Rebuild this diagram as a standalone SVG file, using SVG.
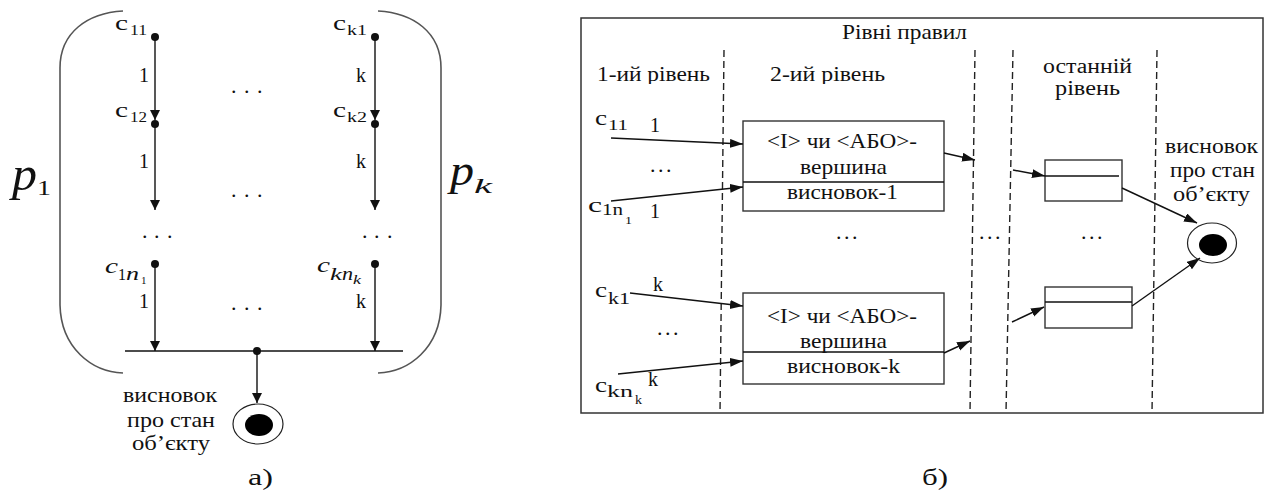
<svg xmlns="http://www.w3.org/2000/svg" width="1266" height="492" viewBox="0 0 1266 492" font-family="'Liberation Serif', 'DejaVu Serif', serif">
  <defs>
    <marker id="arrL" markerUnits="userSpaceOnUse" markerWidth="10" markerHeight="10" refX="10" refY="5" orient="auto">
      <path d="M0,0 L10,5 L0,10 z" fill="#111"/>
    </marker>
    <marker id="arrR" markerUnits="userSpaceOnUse" markerWidth="13" markerHeight="10" refX="13" refY="4.5" orient="auto">
      <path d="M0,0 L13,4.5 L0,9 z" fill="#111"/>
    </marker>
    <clipPath id="clipHead">
      <rect x="585" y="40" width="400" height="44"/>
    </clipPath>
  </defs>
  <style>
    text { font-family: 'Liberation Serif', 'DejaVu Serif', serif; fill: #111; }
    .t { font-size: 21px; }
    .lbl { font-size: 20px; }
    .c { font-size: 22px; }
    .sub { font-size: 15px; }
    .it { font-style: italic; }
    .dots { font-size: 22px; }
    .ln { fill: none; stroke: #111; stroke-width: 1.4; }
    .paren { fill: none; stroke: #555; stroke-width: 1.6; }
    .box { fill: #fff; stroke: #333; stroke-width: 1.4; }
    .dash { fill: none; stroke: #222; stroke-width: 1.4; stroke-dasharray: 7 4; }
    .pt { fill: #111; }
  </style>

  <rect width="1266" height="492" fill="#fff"/>

  <!-- ===== a) chains of conditions ===== -->
  <g id="brackets">
    <path class="paren" d="M123,11 C88,13 60,32 60,68 L60,305 C61,348 92,372 123,373"/>
    <path class="paren" d="M378,11 C413,13 441,32 441,68 L441,305 C440,348 409,372 378,373"/>
    <text x="12" y="190" class="it" font-size="48" textLength="25" lengthAdjust="spacingAndGlyphs">p</text>
    <text x="37" y="195" font-size="20" textLength="14" lengthAdjust="spacingAndGlyphs">1</text>
    <text x="450" y="185" class="it" font-size="44" textLength="24" lengthAdjust="spacingAndGlyphs">p</text>
    <text x="474" y="193" class="it" font-size="22" textLength="18" lengthAdjust="spacingAndGlyphs">k</text>
  </g>

  <g id="a-connectors">
    <path class="ln" d="M155,37 L155,120" marker-end="url(#arrL)"/>
    <path class="ln" d="M155,124 L155,210" marker-end="url(#arrL)"/>
    <path class="ln" d="M375,37 L375,120" marker-end="url(#arrL)"/>
    <path class="ln" d="M375,124 L375,210" marker-end="url(#arrL)"/>
    <path class="ln" d="M155,264 L155,351" marker-end="url(#arrL)"/>
    <path class="ln" d="M375,264 L375,351" marker-end="url(#arrL)"/>
    <path class="ln" d="M125,351 L403,351"/>
    <path class="ln" d="M257,351 L257,403" marker-end="url(#arrL)"/>
  </g>

  <g id="a-c11">
    <circle class="pt" cx="155" cy="37" r="4"/>
    <text x="115" y="30" class="c" textLength="13" lengthAdjust="spacingAndGlyphs">c</text>
    <text x="130" y="35" class="sub" textLength="17" lengthAdjust="spacingAndGlyphs">11</text>
  </g>
  <g id="a-c12">
    <circle class="pt" cx="155" cy="124" r="4"/>
    <text x="115" y="117" class="c" textLength="13" lengthAdjust="spacingAndGlyphs">c</text>
    <text x="130" y="122" class="sub" textLength="17" lengthAdjust="spacingAndGlyphs">12</text>
  </g>
  <g id="a-c1n1">
    <circle class="pt" cx="155" cy="264" r="4"/>
    <text x="105" y="273" class="c it" textLength="13" lengthAdjust="spacingAndGlyphs">c</text>
    <text x="118" y="280" font-size="16">1</text>
    <text x="126" y="280" class="it" font-size="18" textLength="13" lengthAdjust="spacingAndGlyphs">n</text>
    <text x="141" y="284" font-size="11">1</text>
  </g>
  <g id="a-ck1">
    <circle class="pt" cx="375" cy="37" r="4"/>
    <text x="333" y="30" class="c" textLength="13" lengthAdjust="spacingAndGlyphs">c</text>
    <text x="347" y="35" class="sub" textLength="20" lengthAdjust="spacingAndGlyphs">k1</text>
  </g>
  <g id="a-ck2">
    <circle class="pt" cx="375" cy="124" r="4"/>
    <text x="333" y="117" class="c" textLength="13" lengthAdjust="spacingAndGlyphs">c</text>
    <text x="347" y="122" class="sub" textLength="20" lengthAdjust="spacingAndGlyphs">k2</text>
  </g>
  <g id="a-cknk">
    <circle class="pt" cx="375" cy="264" r="4"/>
    <text x="317" y="272" class="c it" textLength="13" lengthAdjust="spacingAndGlyphs">c</text>
    <text x="330" y="280" class="it" font-size="17" textLength="12" lengthAdjust="spacingAndGlyphs">k</text>
    <text x="342" y="280" class="it" font-size="18" textLength="11" lengthAdjust="spacingAndGlyphs">n</text>
    <text x="353" y="284" class="it" font-size="12" textLength="8" lengthAdjust="spacingAndGlyphs">k</text>
  </g>

  <g id="a-weights">
    <text x="139" y="82" class="lbl">1</text>
    <text x="139" y="168" class="lbl">1</text>
    <text x="139" y="308" class="lbl">1</text>
    <text x="356" y="82" class="lbl">k</text>
    <text x="356" y="168" class="lbl">k</text>
    <text x="356" y="308" class="lbl">k</text>
  </g>

  <g id="a-ellipses">
    <text class="dots" x="231 244 257" y="93">...</text>
    <text class="dots" x="231 244 257" y="197">...</text>
    <text class="dots" x="142 154 167" y="238">...</text>
    <text class="dots" x="362 374 387" y="238">...</text>
    <text class="dots" x="231 244 257" y="310">...</text>
  </g>

  <g id="a-junction">
    <circle class="pt" cx="257" cy="351" r="4"/>
  </g>

  <g id="a-final">
    <ellipse cx="258" cy="424" rx="25" ry="20" fill="#fff" stroke="#222" stroke-width="1.2"/>
    <ellipse cx="259" cy="425" rx="14" ry="11" fill="#000"/>
    <text x="123" y="402" class="t" textLength="94" lengthAdjust="spacingAndGlyphs">висновок</text>
    <text x="127" y="427" class="t" textLength="88" lengthAdjust="spacingAndGlyphs">про стан</text>
    <text x="132" y="450" class="t" textLength="78" lengthAdjust="spacingAndGlyphs">об’єкту</text>
  </g>

  <text id="cap-a" x="248" y="485" font-size="23" textLength="25" lengthAdjust="spacingAndGlyphs">а)</text>

  <!-- ===== б) levels of rules ===== -->
  <g id="frame">
    <rect x="581" y="18" width="682" height="395" fill="none" stroke="#333" stroke-width="1.5"/>
    <text x="842" y="39" class="t" textLength="125" lengthAdjust="spacingAndGlyphs">Рівні правил</text>
    <path class="dash" d="M724,50 L720,413"/>
    <path class="dash" d="M975,50 L970,413"/>
    <path class="dash" d="M1013,50 L1006,413"/>
    <path class="dash" d="M1157,50 L1152,413"/>
    <g clip-path="url(#clipHead)">
      <text x="597" y="81" class="t" textLength="113" lengthAdjust="spacingAndGlyphs">1-ий рівень</text>
      <text x="770" y="81" class="t" textLength="115" lengthAdjust="spacingAndGlyphs">2-ий рівень</text>
    </g>
    <text x="1043" y="73" font-size="20" textLength="89" lengthAdjust="spacingAndGlyphs">останній</text>
    <text x="1055" y="95" font-size="20" textLength="65" lengthAdjust="spacingAndGlyphs">рівень</text>
  </g>

  <g id="b-inputs">
    <text x="595" y="125" class="c" textLength="12" lengthAdjust="spacingAndGlyphs">c</text>
    <text x="608" y="130" class="sub" textLength="20" lengthAdjust="spacingAndGlyphs">11</text>
    <text x="650" y="132" class="lbl">1</text>
    <text class="dots" x="650 658 666" y="172">...</text>
    <text x="588" y="212" class="c" textLength="14" lengthAdjust="spacingAndGlyphs">c</text>
    <text x="602" y="215" font-size="16" textLength="21" lengthAdjust="spacingAndGlyphs">1n</text>
    <text x="625" y="224" font-size="11" textLength="7" lengthAdjust="spacingAndGlyphs">1</text>
    <text x="650" y="218" class="lbl">1</text>

    <text x="595" y="297" class="c" textLength="12" lengthAdjust="spacingAndGlyphs">c</text>
    <text x="608" y="304" font-size="16" textLength="22" lengthAdjust="spacingAndGlyphs">k1</text>
    <text x="653" y="291" class="lbl">k</text>
    <text class="dots" x="657 665 673" y="335">...</text>
    <text x="595" y="392" class="c" textLength="12" lengthAdjust="spacingAndGlyphs">c</text>
    <text x="607" y="397" font-size="16" textLength="26" lengthAdjust="spacingAndGlyphs">kn</text>
    <text x="635" y="404" font-size="12" textLength="7" lengthAdjust="spacingAndGlyphs">k</text>
    <text x="648" y="386" class="lbl">k</text>
  </g>

  <g id="b-rule-1">
    <rect class="box" x="743" y="121" width="201" height="90"/>
    <path class="ln" d="M743,182 L944,182"/>
    <text x="767" y="148" class="t" textLength="150" lengthAdjust="spacingAndGlyphs">&lt;I&gt; чи &lt;АБО&gt;-</text>
    <text x="800" y="174" class="t" textLength="87" lengthAdjust="spacingAndGlyphs">вершина</text>
    <text x="787" y="199" class="t" textLength="111" lengthAdjust="spacingAndGlyphs">висновок-1</text>
  </g>

  <g id="b-rule-k">
    <rect class="box" x="743" y="293" width="201" height="91"/>
    <path class="ln" d="M743,352 L944,352"/>
    <text x="767" y="323" class="t" textLength="150" lengthAdjust="spacingAndGlyphs">&lt;I&gt; чи &lt;АБО&gt;-</text>
    <text x="800" y="348" class="t" textLength="87" lengthAdjust="spacingAndGlyphs">вершина</text>
    <text x="787" y="373" class="t" textLength="113" lengthAdjust="spacingAndGlyphs">висновок-k</text>
  </g>

  <g id="b-mid-dots">
    <text class="dots" x="836 844 852" y="239">...</text>
    <text class="dots" x="979 987 995" y="239">...</text>
    <text class="dots" x="1081 1089 1097" y="239">...</text>
  </g>

  <g id="b-last-1">
    <rect class="box" x="1045" y="160" width="77" height="41"/>
    <path class="ln" d="M1045,176 L1119,176"/>
  </g>

  <g id="b-last-k">
    <rect class="box" x="1045" y="287" width="87" height="41"/>
    <path class="ln" d="M1045,302 L1132,302"/>
  </g>

  <g id="b-final">
    <ellipse cx="1212" cy="243" rx="24.5" ry="20" fill="#fff" stroke="#222" stroke-width="1.2"/>
    <ellipse cx="1213" cy="245" rx="14" ry="11" fill="#000"/>
    <text x="1165" y="153" class="t" textLength="93" lengthAdjust="spacingAndGlyphs">висновок</text>
    <text x="1170" y="177" class="t" textLength="85" lengthAdjust="spacingAndGlyphs">про стан</text>
    <text x="1173" y="201" class="t" textLength="77" lengthAdjust="spacingAndGlyphs">об’єкту</text>
  </g>

  <g id="b-connectors">
    <path class="ln" d="M611,138 L743,144" marker-end="url(#arrR)"/>
    <path class="ln" d="M611,201 L743,187" marker-end="url(#arrR)"/>
    <path class="ln" d="M944,153 L975,160" marker-end="url(#arrR)"/>
    <path class="ln" d="M1013,170 L1045,176" marker-end="url(#arrR)"/>
    <path class="ln" d="M1122,188 L1197,223" marker-end="url(#arrR)"/>
    <path class="ln" d="M630,293 L743,306" marker-end="url(#arrR)"/>
    <path class="ln" d="M618,374 L743,361" marker-end="url(#arrR)"/>
    <path class="ln" d="M944,353 L970,341" marker-end="url(#arrR)"/>
    <path class="ln" d="M1012,322 L1044,307" marker-end="url(#arrR)"/>
    <path class="ln" d="M1132,306 L1200,258" marker-end="url(#arrR)"/>
  </g>

  <text id="cap-b" x="922" y="485" font-size="23" textLength="26" lengthAdjust="spacingAndGlyphs">б)</text>
</svg>
